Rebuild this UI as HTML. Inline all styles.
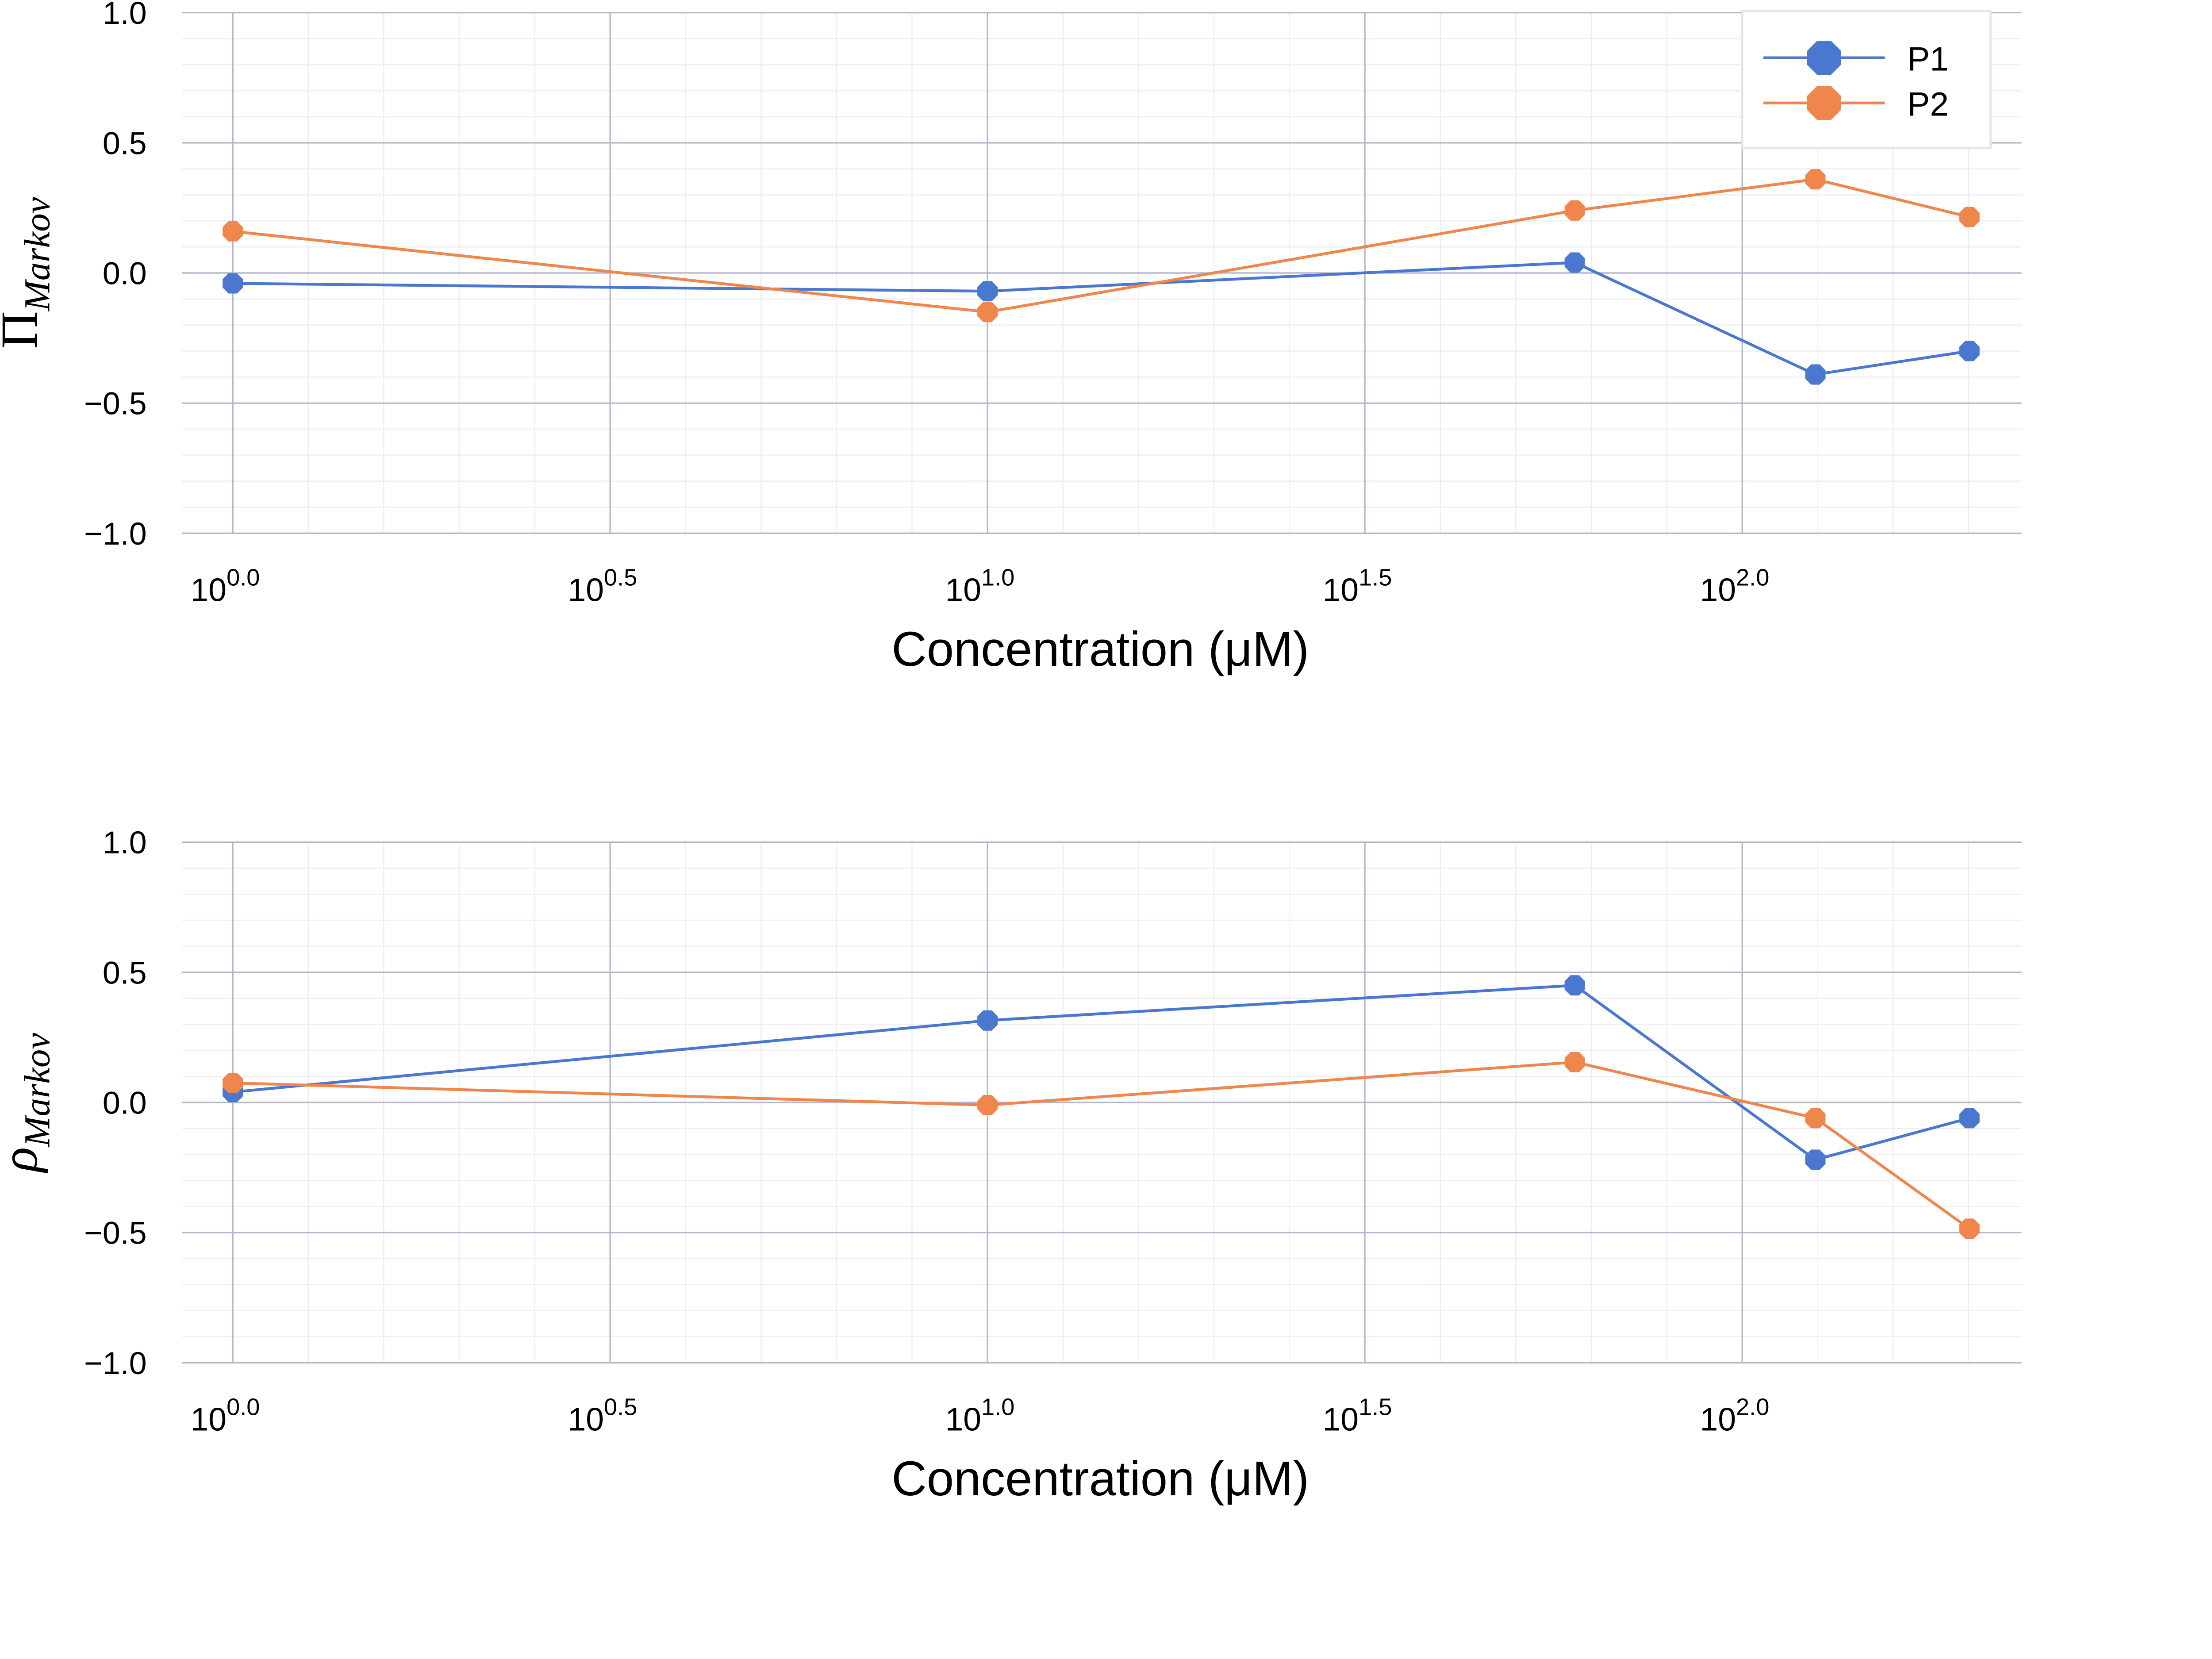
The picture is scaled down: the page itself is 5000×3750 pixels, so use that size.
<!DOCTYPE html>
<html><head><meta charset="utf-8"><style>html,body{margin:0;padding:0;background:#fff}svg{display:block}</style></head>
<body>
<svg id="chart" width="5000" height="3750" viewBox="0 0 1568 1176" xmlns="http://www.w3.org/2000/svg" font-family="Liberation Sans, sans-serif"></svg>
<script>
const concentrations = [1, 10, 60, 125, 200];
const topP1 = [-0.04, -0.07, 0.04, -0.39, -0.30];
const topP2 = [0.16, -0.15, 0.24, 0.36, 0.215];
const botP1 = [0.04, 0.315, 0.45, -0.22, -0.06];
const botP2 = [0.075, -0.01, 0.155, -0.06, -0.485];
const xTickExps = ["0.0", "0.5", "1.0", "1.5", "2.0"];
const yTicks = [1.0, 0.5, 0.0, -0.5, -1.0];
const seriesNames = ["P1", "P2"];
const colors = ["#4a78d0", "#ef874c"];

const NS = "http://www.w3.org/2000/svg";
const svg = document.getElementById("chart");
function mk(tag, attrs, parent, text) {
  const e = document.createElementNS(NS, tag);
  for (const k in attrs) e.setAttribute(k, attrs[k]);
  if (text !== undefined) e.textContent = text;
  (parent || svg).appendChild(e);
  return e;
}
const X0 = 129, X1 = 1433;
function xs(v) { return 165 + Math.log10(v) * 535; }
function xl(l) { return 165 + l * 535; }
function octagon(cx, cy, rx, ry) {
  const pts = [];
  for (let i = 0; i < 8; i++) { const a = Math.PI / 8 + i * Math.PI / 4; pts.push((cx + rx * Math.cos(a)).toFixed(2) + "," + (cy + ry * Math.sin(a)).toFixed(2)); }
  return pts.join(" ");
}

function panel(top, bottom, p1, p2, ylab, name) {
  const g = mk("g", {});
  
  
  const ys = v => top + (1 - v) / 2 * (bottom - top);
  for (let k = -10; k <= 10; k++) {
    if (k % 5 === 0) continue;
    mk("line", {x1: X0, x2: X1, y1: ys(k / 10), y2: ys(k / 10), stroke: "#eeeef4", "stroke-width": 0.8}, g);
  }
  for (let r = -1; r <= 24; r++) {
    if (r % 5 === 0) continue;
    const x = xl(r / 10);
    if (x < X0 || x > X1) continue;
    mk("line", {x1: x, x2: x, y1: top, y2: bottom, stroke: "#eeeef4", "stroke-width": 0.8}, g);
  }
  yTicks.forEach(v => {
    mk("line", {x1: X0, x2: X1, y1: ys(v), y2: ys(v), stroke: "#b4b4cc", "stroke-width": 1}, g);
    const t = mk("text", {x: 104, y: ys(v) + 8, "text-anchor": "end", "font-size": 22.5, fill: "#000"}, g, (v < 0 ? "\u2212" : "") + Math.abs(v).toFixed(1));
    
    
  });
  xTickExps.forEach(e => {
    const x = xl(parseFloat(e));
    mk("line", {x1: x, x2: x, y1: top, y2: bottom, stroke: "#b4b4cc", "stroke-width": 1}, g);
    const t = mk("text", {x: x - 30, y: bottom + 48, "font-size": 23, fill: "#000"}, g);
    
    
    mk("tspan", {}, t, "10");
    mk("tspan", {dy: -11, "font-size": 17}, t, e);
  });
  const xt = mk("text", {x: 780, y: bottom + 94, "text-anchor": "middle", "font-size": 34.5, fill: "#000"}, g, "Concentration (\u03bcM)");
  
  
  const cy = (top + bottom) / 2;
  const yt = mk("text", {transform: `translate(26 ${cy}) rotate(-90)`, "text-anchor": "middle", "font-size": 37, "font-family": "Liberation Serif, serif", fill: "#000"}, g);
  
  
  mk("tspan", {"font-style": ylab === "\u03c1" ? "italic" : "normal"}, yt, ylab);
  mk("tspan", {dy: 9, "font-size": 26, "font-style": "italic"}, yt, "Markov");
  [p1, p2].forEach((vals, si) => {
    const pts = vals.map((v, i) => xs(concentrations[i]).toFixed(2) + "," + ys(v).toFixed(2)).join(" ");
    const pl = mk("polyline", {points: pts, fill: "none", stroke: colors[si], "stroke-width": 2}, g);
    
    
    vals.forEach((v, i) => {
      const m = mk("polygon", {points: octagon(xs(concentrations[i]), ys(v), 7.8, 7.8), fill: colors[si]}, g);
      
      
    });
  });
}
panel(9, 378, topP1, topP2, "\u03a0", "top-panel");
panel(597, 966, botP1, botP2, "\u03c1", "bottom-panel");

const lg = mk("g", {});


mk("rect", {x: 1235, y: 8, width: 176, height: 97, fill: "#fff", stroke: "#e4e4ec", "stroke-width": 1.5}, lg);
seriesNames.forEach((n, i) => {
  const y = 41 + i * 32;
  const e = mk("g", {}, lg);
  
  
  mk("line", {x1: 1250, x2: 1336, y1: y, y2: y, stroke: colors[i], "stroke-width": 2}, e);
  mk("polygon", {points: octagon(1293, y, 13, 13), fill: colors[i]}, e);
  mk("text", {x: 1352, y: y + 9, "font-size": 24, fill: "#000"}, e, n);
});
</script>
</body></html>
